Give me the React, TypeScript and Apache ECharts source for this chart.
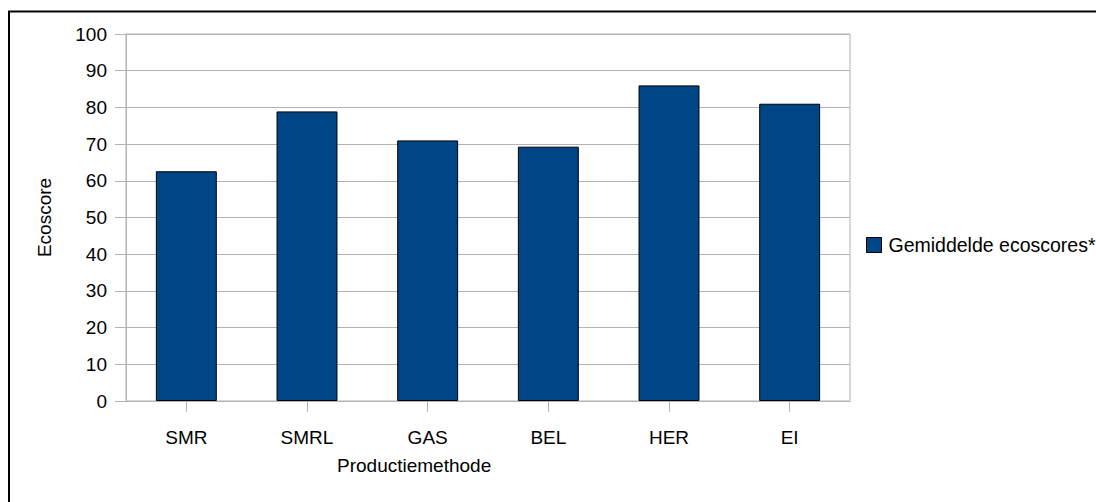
import React, { useEffect, useRef } from "react";
import * as echarts from "echarts";

// Production methods and their average eco-scores
const categories = ["SMR", "SMRL", "GAS", "BEL", "HER", "EI"];
const ecoscores = [62.6, 78.9, 71.0, 69.3, 86.0, 81.0];
const seriesName = "Gemiddelde ecoscores*";
const yAxisTitle = "Ecoscore";
const xAxisTitle = "Productiemethode";

const FONT = "'Liberation Sans', Arial, sans-serif";
const GRID_COLOR = "#b3b3b3";
const BAR_COLOR = "#004586";

export default function App() {
  const ref = useRef<HTMLDivElement>(null);

  useEffect(() => {
    if (!ref.current) return;
    const chart = echarts.init(ref.current, null, { renderer: "svg" });
    chart.setOption({
      animation: false,
      backgroundColor: "#ffffff",
      textStyle: { fontFamily: FONT, color: "#000" },
      grid: {
        left: 126,
        right: 246,
        top: 34,
        bottom: 101,
        show: true,
        borderColor: GRID_COLOR,
        borderWidth: 1,
      },
      legend: {
        orient: "vertical",
        left: 861,
        top: 230,
        itemWidth: 15,
        itemHeight: 15,
        icon: "rect",
        itemStyle: { borderColor: "#000", borderWidth: 1 },
        textStyle: { fontFamily: FONT, fontSize: 19.5, color: "#000", padding: [0, 0, 0, 2] },
        data: [seriesName],
      },
      xAxis: {
        type: "category",
        data: categories,
        axisLine: { show: true, lineStyle: { color: GRID_COLOR, width: 1 } },
        axisTick: { show: true, alignWithLabel: true, length: 11, lineStyle: { color: GRID_COLOR } },
        axisLabel: { fontFamily: FONT, fontSize: 19, color: "#000", margin: 27 },
        splitLine: { show: false },
      },
      yAxis: {
        type: "value",
        min: 0,
        max: 100,
        interval: 10,
        name: yAxisTitle,
        nameLocation: "middle",
        nameGap: 72,
        nameRotate: 90,
        nameTextStyle: { fontFamily: FONT, fontSize: 19, color: "#000" },
        axisLine: { show: true, lineStyle: { color: GRID_COLOR, width: 1 } },
        axisTick: { show: true, length: 11, lineStyle: { color: GRID_COLOR } },
        axisLabel: { fontFamily: FONT, fontSize: 19, color: "#000", margin: 19 },
        splitLine: { show: true, lineStyle: { color: GRID_COLOR, width: 1 } },
      },
      series: [
        {
          name: seriesName,
          type: "bar",
          data: ecoscores,
          barWidth: "50.5%",
          itemStyle: { color: BAR_COLOR, borderColor: "#000", borderWidth: 1 },
        },
      ],
      graphic: [
        {
          type: "text",
          left: 337,
          top: 456,
          style: {
            text: xAxisTitle,
            font: `19px ${FONT}`,
            fill: "#000",
          },
        },
        {
          type: "polyline",
          shape: { points: [[9, 502], [9, 11.5], [1096, 11.5]] },
          style: { stroke: "#000", lineWidth: 2, fill: "none" },
        },
      ],
    });
    return () => chart.dispose();
  }, []);

  return (
    <div
      ref={ref}
      style={{ position: "fixed", left: 0, top: 0, width: 1096, height: 502 }}
    />
  );
}
